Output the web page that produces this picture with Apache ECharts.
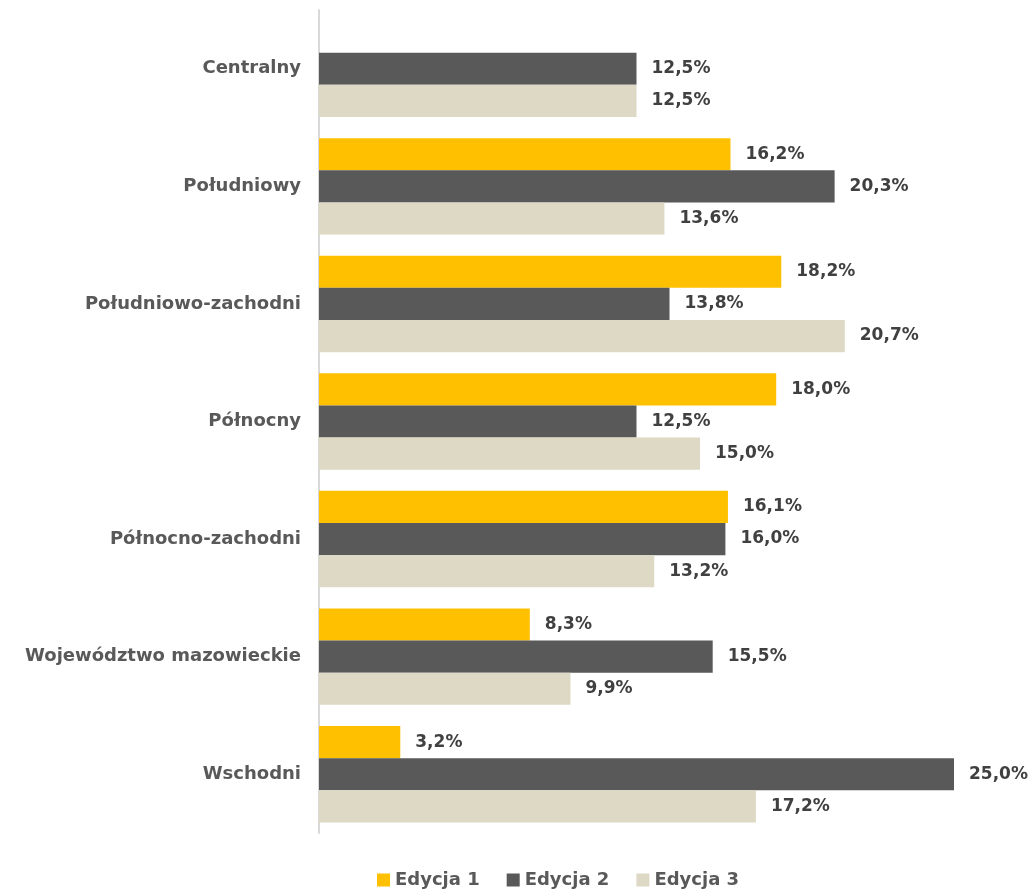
<!DOCTYPE html>
<html><head><meta charset="utf-8">
<script src="https://cdn.jsdelivr.net/npm/echarts@6/dist/echarts.min.js"></script>
<style>html,body{margin:0;padding:0;background:#fff}#c{width:1031px;height:891px}</style>
</head><body><div id="c"></div>
<script>
const categories = ['Centralny','Południowy','Południowo-zachodni','Północny','Północno-zachodni','Województwo mazowieckie','Wschodni'];
const seriesNames = ['Edycja 1','Edycja 2','Edycja 3'];
const edycja1 = [null, 16.2, 18.2, 18.0, 16.1, 8.3, 3.2];
const edycja2 = [12.5, 20.3, 13.8, 12.5, 16.0, 15.5, 25.0];
const edycja3 = [12.5, 13.6, 20.7, 15.0, 13.2, 9.9, 17.2];
const colors = ['#FFC000','#595959','#DDD9C4'];
const FONT = 'DejaVu Sans';
const chart = echarts.init(document.getElementById('c'));
const mk = (name, data, color) => ({
  name, type: 'bar', data, barGap: '0%', barCategoryGap: '18%',
  itemStyle: {color},
  label: {show: true, position: 'right', distance: 15, color: '#404040', fontFamily: FONT, fontWeight: 'bold', fontSize: 17,
    formatter: p => p.value == null ? '' : p.value.toFixed(1).replace('.', ',') + '%'}
});
chart.setOption({
  animation: false,
  grid: {left: 319, right: 77, top: 10, bottom: 58, containLabel: false},
  legend: {top: 866, left: 372, itemWidth: 13, itemHeight: 13, itemGap: 27, icon: 'rect',
    textStyle: {color: '#595959', fontFamily: FONT, fontWeight: 'bold', fontSize: 18}, data: seriesNames},
  xAxis: {type: 'value', min: 0, max: 25, show: false, splitLine: {show: false}},
  yAxis: {type: 'category', data: categories, inverse: true,
    axisLine: {show: true, lineStyle: {color: '#D9D9D9', width: 2}}, axisTick: {show: false},
    axisLabel: {color: '#595959', fontFamily: FONT, fontWeight: 'bold', fontSize: 18, margin: 18}},
  series: [mk(seriesNames[0], edycja1, colors[0]), mk(seriesNames[1], edycja2, colors[1]), mk(seriesNames[2], edycja3, colors[2])]
});
</script></body></html>
